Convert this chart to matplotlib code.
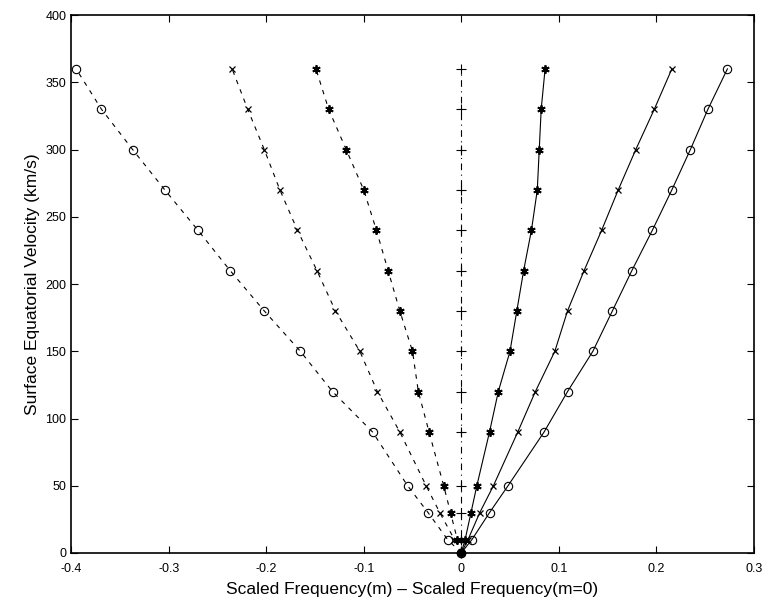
import numpy as np
import matplotlib.pyplot as plt

plt.rcParams['font.family'] = ['Liberation Sans', 'DejaVu Sans']

# surface equatorial velocity (km/s)
vel = [0, 10, 30, 50, 90, 120, 150, 180, 210, 240, 270, 300, 330, 360]

# frequency shift relative to m=0 for each azimuthal order
m_neg3 = [0, -0.014, -0.034, -0.055, -0.091, -0.132, -0.165, -0.202, -0.237, -0.270, -0.304, -0.337, -0.369, -0.395]
m_neg2 = [0, -0.007, -0.022, -0.036, -0.063, -0.086, -0.104, -0.129, -0.148, -0.168, -0.186, -0.202, -0.219, -0.235]
m_neg1 = [0, -0.004, -0.011, -0.018, -0.033, -0.044, -0.050, -0.063, -0.075, -0.087, -0.100, -0.118, -0.136, -0.149]
m_zero = [0, 0, 0, 0, 0, 0, 0, 0, 0, 0, 0, 0, 0, 0]
m_pos1 = [0, 0.004, 0.010, 0.016, 0.029, 0.038, 0.050, 0.057, 0.064, 0.072, 0.078, 0.080, 0.082, 0.086]
m_pos2 = [0, 0.007, 0.019, 0.033, 0.058, 0.076, 0.096, 0.109, 0.126, 0.144, 0.161, 0.179, 0.198, 0.216]
m_pos3 = [0, 0.011, 0.029, 0.048, 0.085, 0.109, 0.135, 0.155, 0.175, 0.196, 0.216, 0.235, 0.253, 0.273]

asterisk = (6, 2, 0)
dash = (0, (4, 5))
dashdot = (0, (6, 4, 1, 4))

fig = plt.figure(figsize=(7.66, 6.05), dpi=100)
ax = fig.add_axes([0.093, 0.086, 0.891, 0.889])

kw = dict(color='black', lw=0.8, clip_on=False)
ax.plot(m_neg3, vel, ls=dash, marker='o', mfc='none', ms=6, mew=0.8, **kw)
ax.plot(m_neg2, vel, ls=dash, marker='x', ms=5, mew=0.9, **kw)
ax.plot(m_neg1, vel, ls=dash, marker=asterisk, ms=6, mew=1.3, **kw)
ax.plot(m_zero, vel, ls=dashdot, marker='+', ms=7, mew=0.8, **kw)
ax.plot(m_pos1, vel, '-', marker=asterisk, ms=6, mew=1.3, **kw)
ax.plot(m_pos2, vel, '-', marker='x', ms=5, mew=0.9, **kw)
ax.plot(m_pos3, vel, '-', marker='o', mfc='none', ms=6, mew=0.8, **kw)

ax.set_xlim(-0.4, 0.3)
ax.set_ylim(0, 400)
ax.set_xticks(np.arange(-0.4, 0.31, 0.1))
ax.set_xticklabels(['-0.4', '-0.3', '-0.2', '-0.1', '0', '0.1', '0.2', '0.3'])
ax.set_yticks(np.arange(0, 401, 50))
ax.tick_params(direction='in', top=True, right=True, labelsize=9, length=5, width=0.8)
ax.tick_params(axis='x', pad=7)
for s in ax.spines.values():
    s.set_linewidth(1.2)

ax.set_xlabel('Scaled Frequency(m) \u2013 Scaled Frequency(m=0)', fontsize=12.5, labelpad=5)
ax.set_ylabel('Surface Equatorial Velocity (km/s)', fontsize=12.5, labelpad=4)

fig.savefig('out.png', dpi=100)
